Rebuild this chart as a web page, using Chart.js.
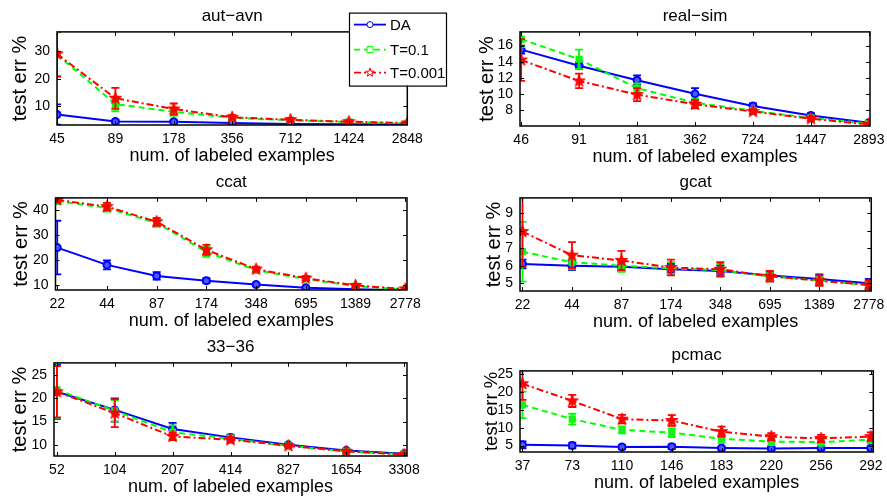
<!DOCTYPE html>
<html>
<head>
<meta charset="utf-8">
<script src="https://cdn.jsdelivr.net/npm/chart.js@4/dist/chart.umd.min.js"></script>
<style>
  html, body { margin: 0; width: 887px; height: 497px; background: #fff; overflow: hidden; }
  canvas { position: absolute; }
</style>
</head>
<body>
<canvas id="c0"></canvas>
<canvas id="c1"></canvas>
<canvas id="c2"></canvas>
<canvas id="c3"></canvas>
<canvas id="c4"></canvas>
<canvas id="c5"></canvas>
<script>
// ---------- data ----------
const seriesNames = ['DA', 'T=0.1', 'T=0.001'];

// aut-avn
const autX     = [45, 89, 178, 356, 712, 1424, 2848];
const autDA    = [7.0, 4.5, 4.4, 3.9, 3.6, 3.5, 3.4];
const autDAe   = [3.7, 0.5, 0.5, 0.3, 0.2, 0.2, 0.2];
const autT1    = [28.8, 10.8, 8.0, 5.8, 4.9, 4.3, 3.8];
const autT1e   = [8.0, 2.6, 1.5, 0.8, 0.6, 0.5, 0.4];
const autT3    = [29.0, 12.9, 9.0, 6.0, 5.1, 4.4, 3.9];
const autT3e   = [8.2, 3.8, 2.0, 0.8, 0.6, 0.5, 0.4];
const autY     = [10, 20, 30];

// real-sim
const realX    = [46, 91, 181, 362, 724, 1447, 2893];
const realDA   = [15.5, 13.5, 11.7, 10.0, 8.5, 7.3, 6.4];
const realDAe  = [0.5, 0.4, 0.6, 0.7, 0.3, 0.3, 0.15];
const realT1   = [16.8, 14.3, 10.7, 8.9, 7.9, 7.0, 6.3];
const realT1e  = [1.0, 1.2, 0.6, 0.5, 0.3, 0.3, 0.2];
const realT3   = [14.2, 11.6, 9.9, 8.7, 7.8, 6.9, 6.2];
const realT3e  = [2.6, 0.9, 0.8, 0.5, 0.3, 0.3, 0.2];
const realY    = [8, 10, 12, 14, 16];

// ccat
const ccatX    = [22, 44, 87, 174, 348, 695, 1389, 2778];
const ccatDA   = [25.0, 18.1, 13.7, 11.8, 10.3, 9.0, 8.4, 8.0];
const ccatDAe  = [10.7, 1.8, 1.5, 1.0, 0.6, 0.4, 0.3, 0.2];
const ccatT1   = [43.5, 40.8, 34.8, 23.3, 16.0, 12.5, 9.6, 8.3];
const ccatT1e  = [1.0, 1.5, 1.5, 2.0, 1.0, 0.8, 0.5, 0.3];
const ccatT3   = [44.0, 41.3, 35.3, 24.1, 16.4, 12.8, 9.9, 8.5];
const ccatT3e  = [1.0, 1.5, 1.5, 2.0, 1.0, 0.8, 0.5, 0.3];
const ccatY    = [10, 20, 30, 40];

// gcat
const gcatX    = [22, 44, 87, 174, 348, 695, 1389, 2778];
const gcatDA   = [6.1, 6.0, 5.95, 5.8, 5.7, 5.45, 5.25, 5.0];
const gcatDAe  = [0.25, 0.25, 0.25, 0.3, 0.3, 0.2, 0.25, 0.25];
const gcatT1   = [6.8, 6.2, 6.0, 5.85, 5.75, 5.4, 5.15, 4.9];
const gcatT1e  = [1.7, 0.4, 0.35, 0.35, 0.35, 0.25, 0.25, 0.2];
const gcatT3   = [7.95, 6.6, 6.3, 5.9, 5.8, 5.4, 5.15, 4.9];
const gcatT3e  = [2.0, 0.75, 0.55, 0.45, 0.4, 0.3, 0.3, 0.25];
const gcatY    = [5, 6, 7, 8, 9];

// 33-36
const c33X     = [52, 104, 207, 414, 827, 1654, 3308];
const c33DA    = [21.4, 17.5, 13.4, 11.6, 10.0, 8.8, 8.1];
const c33DAe   = [5.8, 2.5, 1.3, 0.6, 0.4, 0.3, 0.2];
const c33T1    = [21.8, 17.3, 12.7, 11.3, 9.8, 8.6, 8.0];
const c33T1e   = [6.0, 2.3, 1.5, 0.7, 0.4, 0.3, 0.2];
const c33T3    = [21.4, 16.8, 11.8, 11.1, 9.8, 8.6, 7.9];
const c33T3e   = [5.5, 3.0, 0.8, 0.6, 0.4, 0.3, 0.2];
const c33Y     = [10, 15, 20, 25];

// pcmac
const pcX      = [37, 73, 110, 146, 183, 220, 256, 292];
const pcDA     = [5.2, 5.0, 4.6, 4.7, 4.3, 4.2, 4.3, 4.3];
const pcDAe    = [1.0, 0.8, 0.6, 0.6, 0.5, 0.5, 0.5, 0.5];
const pcT1     = [16.4, 12.4, 9.4, 8.6, 6.9, 6.1, 6.0, 6.6];
const pcT1e    = [3.7, 1.5, 1.0, 1.2, 1.2, 1.0, 1.0, 1.0];
const pcT3     = [22.3, 17.5, 12.4, 12.0, 8.9, 7.5, 7.0, 7.5];
const pcT3e    = [4.5, 1.7, 1.2, 1.5, 1.4, 1.0, 1.0, 1.2];
const pcY      = [5, 10, 15, 20, 25];

// ---------- styling / layout ----------
const FONT = "'Liberation Sans', Arial, Helvetica, sans-serif";
Chart.defaults.font.family = FONT;
Chart.defaults.color = '#000';

const BLUE = '#0000ff', GREEN = '#00ff00', RED = '#ff0000';
const TITLE_PT = 4, TITLE_PB = 5.5, TITLE_SIZE = 17;
const TITLE_H = TITLE_PT + TITLE_SIZE * 1.2 + TITLE_PB;
const XAXIS_H = 44;
const YTITLE_SIZE = 20;

function starPath(g, cx, cy, r) {
  g.beginPath();
  for (let i = 0; i < 10; i++) {
    const a = -Math.PI / 2 + i * Math.PI / 5;
    const rr = i % 2 ? r * 0.4 : r;
    g.lineTo(cx + rr * Math.cos(a), cy + rr * Math.sin(a));
  }
  g.closePath();
}

function starImage(r) {
  const c = document.createElement('canvas');
  const s = Math.ceil(r * 2 + 2);
  c.width = c.height = s;
  const g = c.getContext('2d');
  starPath(g, s / 2, s / 2, r);
  g.fillStyle = RED; g.fill();
  g.strokeStyle = RED; g.lineWidth = 1; g.stroke();
  return c;
}
const STAR = starImage(6.5);

// error bars, drawn under each series
const errorBars = {
  id: 'errorBars',
  beforeDatasetDraw(chart, args) {
    const ds = chart.data.datasets[args.index];
    if (!ds.err) return;
    const { ctx, chartArea: a, scales: { x, y } } = chart;
    ctx.save();
    ctx.beginPath();
    ctx.rect(a.left, a.top, a.right - a.left, a.bottom - a.top);
    ctx.clip();
    ctx.strokeStyle = ds.borderColor;
    ctx.lineWidth = 1.8;
    ds.data.forEach((p, i) => {
      const px = x.getPixelForValue(p.x);
      const t = y.getPixelForValue(p.y + ds.err[i]);
      const b = y.getPixelForValue(p.y - ds.err[i]);
      ctx.beginPath();
      ctx.moveTo(px, t); ctx.lineTo(px, b);
      ctx.moveTo(px - 4, t); ctx.lineTo(px + 4, t);
      ctx.moveTo(px - 4, b); ctx.lineTo(px + 4, b);
      ctx.stroke();
    });
    ctx.restore();
  }
};

// matlab style box with inward ticks
const matlabBox = {
  id: 'matlabBox',
  afterDatasetsDraw(chart) {
    const { ctx, chartArea: a, scales: { x, y } } = chart;
    ctx.save();
    ctx.strokeStyle = '#000';
    ctx.lineWidth = 1.5;
    ctx.strokeRect(a.left, a.top, a.right - a.left, a.bottom - a.top);
    ctx.lineWidth = 1;
    ctx.beginPath();
    x.ticks.forEach(t => {
      const px = Math.round(x.getPixelForValue(t.value)) + 0.5;
      ctx.moveTo(px, a.bottom); ctx.lineTo(px, a.bottom - 4);
      ctx.moveTo(px, a.top); ctx.lineTo(px, a.top + 4);
    });
    y.ticks.forEach(t => {
      const py = Math.round(y.getPixelForValue(t.value)) + 0.5;
      ctx.moveTo(a.left, py); ctx.lineTo(a.left + 4, py);
      ctx.moveTo(a.right, py); ctx.lineTo(a.right - 4, py);
    });
    ctx.stroke();
    ctx.restore();
  }
};

// legend box, drawn on the first panel only
const mlLegend = {
  id: 'mlLegend',
  afterDraw(chart, args, o) {
    const ctx = chart.ctx;
    ctx.save();
    ctx.fillStyle = '#fff';
    ctx.fillRect(o.left, o.top, o.width, o.height);
    ctx.strokeStyle = '#000';
    ctx.lineWidth = 1.2;
    ctx.strokeRect(o.left + 0.5, o.top + 0.5, o.width, o.height);
    const rows = [12, 37, 60];
    chart.data.datasets.forEach((ds, i) => {
      const yy = o.top + rows[i];
      const x0 = o.left + 5, x1 = o.left + 37, xm = (x0 + x1) / 2;
      ctx.strokeStyle = ds.borderColor;
      ctx.lineWidth = 1.8;
      ctx.setLineDash(ds.borderDash || []);
      ctx.beginPath(); ctx.moveTo(x0, yy); ctx.lineTo(x1, yy); ctx.stroke();
      ctx.setLineDash([]);
      ctx.lineWidth = 1;
      ctx.fillStyle = '#fff';
      ctx.beginPath();
      if (i === 0) ctx.arc(xm, yy, 3, 0, Math.PI * 2);
      else if (i === 1) ctx.rect(xm - 3, yy - 3, 6, 6);
      else starPath(ctx, xm, yy, 4.5);
      ctx.fill(); ctx.stroke();
      ctx.fillStyle = '#000';
      ctx.font = '15px ' + FONT;
      ctx.textBaseline = 'middle';
      ctx.fillText(seriesNames[i], o.left + 41, yy + 1);
    });
    ctx.restore();
  }
};

function pts(arr) { return arr.map((v, i) => ({ x: i, y: v })); }

function makePanel(p) {
  const cv = document.getElementById(p.id);
  const cy = p.plotTop - TITLE_H;
  const h = Math.round(p.plotBottom - cy + XAXIS_H);
  cv.width = p.w;
  cv.height = h;
  cv.style.left = p.cx + 'px';
  cv.style.top = cy + 'px';

  const plugins = [errorBars, matlabBox];
  if (p.legend) plugins.push(mlLegend);

  new Chart(cv, {
    type: 'line',
    data: {
      datasets: [
        {
          label: seriesNames[0], data: pts(p.da), err: p.daE, order: 3,
          borderColor: BLUE, borderWidth: 2, pointStyle: 'circle', pointRadius: 3.5,
          pointBorderWidth: 2, pointBackgroundColor: '#4a5cff', pointBorderColor: BLUE
        },
        {
          label: seriesNames[1], data: pts(p.t1), err: p.t1E, order: 2,
          borderColor: GREEN, borderWidth: 2, borderDash: [6, 4], pointStyle: 'rect',
          pointRadius: 4, pointBorderWidth: 1.5, pointBackgroundColor: '#33dd33', pointBorderColor: GREEN
        },
        {
          label: seriesNames[2], data: pts(p.t3), err: p.t3E, order: 1,
          borderColor: RED, borderWidth: 2, borderDash: [7, 3, 2, 3], pointStyle: STAR,
          pointRadius: 6, pointBackgroundColor: RED, pointBorderColor: RED
        }
      ]
    },
    options: {
      responsive: false,
      animation: false,
      layout: { padding: { left: 0, top: 0, bottom: 0, right: p.w - (p.plotRight - p.cx) } },
      plugins: {
        legend: { display: false },
        tooltip: { enabled: false },
        title: {
          display: true, text: p.title, fullSize: false, color: '#000',
          font: { size: TITLE_SIZE, weight: 'normal' },
          padding: { top: TITLE_PT, bottom: TITLE_PB }
        },
        mlLegend: p.legend ? { left: p.legend[0] - p.cx, top: p.legend[1] - cy, width: p.legend[2], height: p.legend[3] } : {}
      },
      scales: {
        x: {
          type: 'linear',
          min: -p.xPad, max: p.xLabels.length - 1 + p.xPad,
          afterBuildTicks: s => { s.ticks = p.xLabels.map((v, i) => ({ value: i })); },
          afterFit: s => { s.height = XAXIS_H; },
          grid: { display: false, drawTicks: false },
          border: { display: false },
          ticks: {
            font: { size: 14 }, padding: 5.5, maxRotation: 0, autoSkip: false,
            callback: v => p.xLabels[v]
          },
          title: {
            display: true, text: 'num. of labeled examples',
            font: { size: 18 }, padding: { top: 0, bottom: 2 }
          }
        },
        y: {
          type: 'linear',
          min: p.yMin, max: p.yMax,
          afterBuildTicks: s => { s.ticks = p.yTicks.map(v => ({ value: v })); },
          afterFit: s => { s.width = p.plotLeft - p.cx; },
          grid: { display: false, drawTicks: false },
          border: { display: false },
          ticks: { font: { size: 14 }, padding: 7 },
          title: {
            display: true, text: 'test err %',
            font: { size: p.yTitleSize || YTITLE_SIZE },
            padding: { top: p.yTitleX - p.cx - (p.yTitleSize || YTITLE_SIZE) * 0.6, bottom: 0 }
          }
        }
      }
    },
    plugins: plugins
  });
}

const panels = [
  { id: 'c0', title: 'aut\u2212avn', cx: 0, w: 450, plotLeft: 57, plotRight: 407.3, plotTop: 32.3, plotBottom: 125.7,
    yTitleX: 20.3, xPad: 0, yMin: 3.2, yMax: 37.0, yTicks: autY, xLabels: autX,
    da: autDA, daE: autDAe, t1: autT1, t1E: autT1e, t3: autT3, t3E: autT3e,
    legend: [349, 13, 97, 73] },
  { id: 'c1', title: 'real\u2212sim', cx: 450, w: 440, plotLeft: 520, plotRight: 873.3, plotTop: 32.3, plotBottom: 126,
    yTitleX: 487, xPad: 0.02, yMin: 6.0, yMax: 17.7, yTicks: realY, xLabels: realX,
    da: realDA, daE: realDAe, t1: realT1, t1E: realT1e, t3: realT3, t3E: realT3e },
  { id: 'c2', title: 'ccat', cx: 0, w: 430, plotLeft: 55.5, plotRight: 407, plotTop: 197.7, plotBottom: 290,
    yTitleX: 21.7, xPad: 0.035, yMin: 8.1, yMax: 44.8, yTicks: ccatY, xLabels: ccatX,
    da: ccatDA, daE: ccatDAe, t1: ccatT1, t1E: ccatT1e, t3: ccatT3, t3E: ccatT3e },
  { id: 'c3', title: 'gcat', cx: 450, w: 440, plotLeft: 520, plotRight: 873.3, plotTop: 197.7, plotBottom: 290.7,
    yTitleX: 494.8, xPad: 0.05, yMin: 4.56, yMax: 9.87, yTicks: gcatY, xLabels: gcatX,
    da: gcatDA, daE: gcatDAe, t1: gcatT1, t1E: gcatT1e, t3: gcatT3, t3E: gcatT3e },
  { id: 'c4', title: '33\u221236', cx: 0, w: 430, plotLeft: 54, plotRight: 407, plotTop: 362.7, plotBottom: 456,
    yTitleX: 20.3, xPad: 0.05, yMin: 7.6, yMax: 27.6, yTicks: c33Y, xLabels: c33X,
    da: c33DA, daE: c33DAe, t1: c33T1, t1E: c33T1e, t3: c33T3, t3E: c33T3e },
  { id: 'c5', title: 'pcmac', cx: 450, w: 440, plotLeft: 520, plotRight: 873.3, plotTop: 371, plotBottom: 451.7,
    yTitleX: 492, yTitleSize: 18.5, xPad: 0.05, yMin: 3.2, yMax: 25.9, yTicks: pcY, xLabels: pcX,
    da: pcDA, daE: pcDAe, t1: pcT1, t1E: pcT1e, t3: pcT3, t3E: pcT3e }
];

panels.forEach(makePanel);
</script>
</body>
</html>
